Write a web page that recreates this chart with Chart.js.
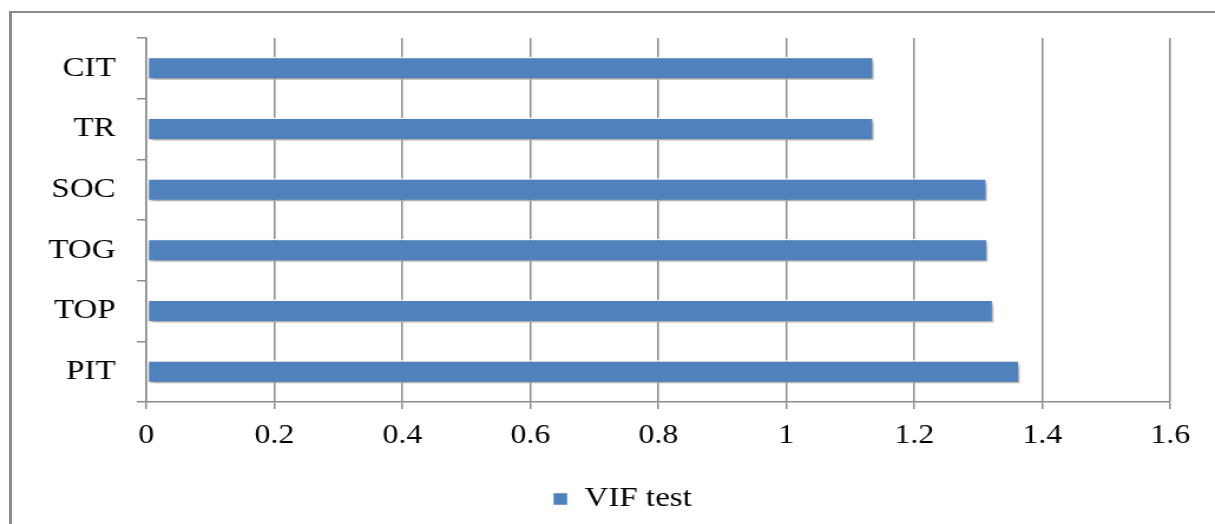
<!DOCTYPE html>
<html>
<head>
<meta charset="utf-8">
<script src="https://cdn.jsdelivr.net/npm/chart.js@4.4.1/dist/chart.umd.min.js"></script>
<style>
html,body{margin:0;padding:0;background:#fff;overflow:hidden}
#frame{position:absolute;left:9px;top:11px;width:1300px;height:600px;border-top:2px solid #8c8c8c;border-left:3px solid #8c8c8c}
#wrap{position:absolute;left:0;top:0;width:1030px;height:524px;transform:scaleX(1.1796);transform-origin:0 0}
</style>
</head>
<body>
<div id="frame"></div>
<div id="wrap"><canvas id="c"></canvas></div>
<script>
// values
const categories=['CIT','TR','SOC','TOG','TOP','PIT'];
const vifValues=[1.137,1.137,1.314,1.315,1.324,1.365];
const seriesName='VIF test';
const xTicks=[0,0.2,0.4,0.6,0.8,1,1.2,1.4,1.6];

const GRID='#8c8c8c',BLUE='#4F81BD',FONT='"Liberation Serif","Times New Roman",serif';

// soft drop shadow under the bars
const barShadow={id:'barShadow',
  beforeDatasetDraw(chart){const c=chart.ctx;c.save();c.shadowColor='rgba(0,0,0,0.35)';c.shadowBlur=4;c.shadowOffsetX=2;c.shadowOffsetY=3},
  afterDatasetDraw(chart){chart.ctx.restore()}};
// legend sits a little right of centre in the original
const legendNudge={id:'legendNudge',afterLayout(chart){const l=chart.legend;if(l){l.left+=20;l.right+=20}}};

new Chart(document.getElementById('c'),{
  type:'bar',
  data:{labels:categories,datasets:[{label:seriesName,data:vifValues,backgroundColor:BLUE,borderColor:'rgba(255,255,255,0.95)',borderWidth:1.5,borderSkipped:false,categoryPercentage:0.38,barPercentage:1}]},
  options:{indexAxis:'y',responsive:true,maintainAspectRatio:false,animation:false,
    layout:{padding:{left:23,right:38,top:38,bottom:1}},
    plugins:{tooltip:{enabled:false},
      legend:{position:'bottom',labels:{color:'#000',font:{family:FONT,size:28},boxWidth:13,boxHeight:13,padding:10}}},
    scales:{
      x:{min:0,max:1.6,afterBuildTicks:s=>{s.ticks=xTicks.map(v=>({value:v}))},
        afterFit:s=>{s.height=73},
        grid:{color:GRID,lineWidth:1.5,tickLength:7,drawTicks:true},
        border:{color:GRID,width:1.5},
        ticks:{color:'#000',font:{family:FONT,size:27},padding:11,callback:v=>String(v)}},
      y:{grid:{color:GRID,lineWidth:1.5,drawOnChartArea:false,tickLength:8},
        border:{color:GRID,width:1.5},
        ticks:{color:'#000',font:{family:FONT,size:28},padding:18}}
    }},
  plugins:[barShadow,legendNudge]
});
</script>
</body>
</html>
